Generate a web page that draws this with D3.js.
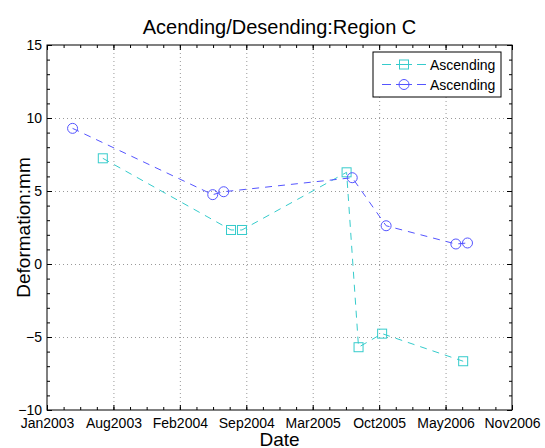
<!DOCTYPE html>
<html>
<head>
<meta charset="utf-8">
<script src="https://cdn.jsdelivr.net/npm/d3@7"></script>
<style>
  body { margin: 0; background: #fff; }
  svg { font-family: "Liberation Sans", Arial, sans-serif; }
  .grid line { stroke: #999; stroke-dasharray: 1,3; }
  .grid path { display: none; }
  .ax path { display: none; }
  .ax line { stroke: #000; }
  .ax text { font-size: 14px; fill: #000; }
</style>
</head>
<body>
<svg id="chart" width="545" height="448"></svg>
<script>
"use strict";

// x axis: ticks every 200 days starting 19 Jan 2003
var xTickLabels = ["Jan2003", "Aug2003", "Feb2004", "Sep2004", "Mar2005", "Oct2005", "May2006", "Nov2006"];
var yTicks = [-10, -5, 0, 5, 10, 15];

var ascDates = ["2003-07-06", "2004-07-26", "2004-08-28", "2005-07-09", "2005-08-14", "2005-10-24", "2006-06-25"];
var ascValues = [7.24, 2.33, 2.33, 6.28, -5.7, -4.77, -6.66];

var descDates = ["2003-04-06", "2004-06-01", "2004-07-04", "2005-07-26", "2005-11-05", "2006-06-03", "2006-07-08"];
var descValues = [9.29, 4.75, 4.95, 5.91, 2.62, 1.37, 1.44];

var seriesNames = ["Ascending", "Ascending"];

(function () {
    var svg = d3.select("#chart"),
        margin = {top: 45, right: 33, bottom: 38, left: 47},
        w = 545 - margin.left - margin.right,
        h = 448 - margin.top - margin.bottom,
        parse = d3.utcParse("%Y-%m-%d"),
        start = parse("2003-01-19"),
        end = d3.utcDay.offset(start, 1400),
        xTicks = xTickLabels.map(function (d, i) { return d3.utcDay.offset(start, 200 * i); }),
        xMinor = d3.range(0, 1401, 50).map(function (d) { return d3.utcDay.offset(start, d); }),
        yMinor = d3.range(-10, 16, 1),
        x = d3.scaleUtc().domain([start, end]).range([0, w]),
        y = d3.scaleLinear().domain([-10, 15]).range([h, 0]),
        g = svg.append("g").attr("transform", "translate(" + margin.left + "," + margin.top + ")");

    // dotted grid
    g.append("g").attr("class", "grid")
        .attr("transform", "translate(0," + h + ")")
        .call(d3.axisBottom(x).tickValues(xTicks.slice(1, -1)).tickSize(-h).tickFormat(""));
    g.append("g").attr("class", "grid")
        .call(d3.axisLeft(y).tickValues(yTicks.slice(1, -1)).tickSize(-w).tickFormat(""));

    // minor ticks on all four sides
    g.append("g").attr("class", "ax").attr("transform", "translate(0," + h + ")")
        .call(d3.axisBottom(x).tickValues(xMinor).tickSize(-3).tickFormat(""));
    g.append("g").attr("class", "ax")
        .call(d3.axisTop(x).tickValues(xMinor).tickSize(-3).tickFormat(""));
    g.append("g").attr("class", "ax")
        .call(d3.axisLeft(y).tickValues(yMinor).tickSize(-3).tickFormat(""));
    g.append("g").attr("class", "ax").attr("transform", "translate(" + w + ",0)")
        .call(d3.axisRight(y).tickValues(yMinor).tickSize(-3).tickFormat(""));

    // major ticks and labels
    g.append("g").attr("class", "ax").attr("transform", "translate(0," + h + ")")
        .call(d3.axisBottom(x).tickValues(xTicks).tickSize(-5).tickPadding(5)
            .tickFormat(function (d, i) { return xTickLabels[i]; }))
        .selectAll("text").attr("dy", "0.95em");
    g.append("g").attr("class", "ax")
        .call(d3.axisTop(x).tickValues(xTicks).tickSize(-5).tickFormat(""));
    g.append("g").attr("class", "ax")
        .call(d3.axisLeft(y).tickValues(yTicks).tickSize(-5).tickPadding(5).tickFormat(d3.format("d")))
        .selectAll("text").text(function (d) { return d < 0 ? "\u2212" + Math.abs(d) : d; });
    g.append("g").attr("class", "ax").attr("transform", "translate(" + w + ",0)")
        .call(d3.axisRight(y).tickValues(yTicks).tickSize(-5).tickFormat(""));

    // frame
    g.append("rect").attr("width", w).attr("height", h)
        .attr("fill", "none").attr("stroke", "#000").attr("stroke-width", 1);

    var line = d3.line()
        .x(function (d) { return x(d.date); })
        .y(function (d) { return y(d.value); });

    function series(dates, values) {
        return dates.map(function (d, i) { return {date: parse(d), value: values[i]}; });
    }

    var asc = series(ascDates, ascValues),
        desc = series(descDates, descValues),
        cyan = "#36cccc",
        blue = "#5555ff";

    g.append("path").attr("d", line(asc)).attr("fill", "none")
        .attr("stroke", cyan).attr("stroke-dasharray", "7,6");
    g.append("path").attr("d", line(desc)).attr("fill", "none")
        .attr("stroke", blue).attr("stroke-dasharray", "7,6");

    g.selectAll(".sq").data(asc).enter().append("rect")
        .attr("x", function (d) { return x(d.date) - 4.5; })
        .attr("y", function (d) { return y(d.value) - 4.5; })
        .attr("width", 9).attr("height", 9)
        .attr("fill", "none").attr("stroke", cyan);
    g.selectAll(".ci").data(desc).enter().append("circle")
        .attr("cx", function (d) { return x(d.date); })
        .attr("cy", function (d) { return y(d.value); })
        .attr("r", 5)
        .attr("fill", "none").attr("stroke", blue);

    // legend
    var lg = svg.append("g").attr("transform", "translate(373,52)");
    lg.append("rect").attr("width", 128).attr("height", 45)
        .attr("fill", "#fff").attr("stroke", "#000");
    [cyan, blue].forEach(function (c, i) {
        var yy = 12.5 + i * 20;
        lg.append("line").attr("x1", 9).attr("x2", 18).attr("y1", yy).attr("y2", yy).attr("stroke", c);
        lg.append("line").attr("x1", 23).attr("x2", 39).attr("y1", yy).attr("y2", yy).attr("stroke", c);
        lg.append("line").attr("x1", 44).attr("x2", 53).attr("y1", yy).attr("y2", yy).attr("stroke", c);
        if (i === 0) {
            lg.append("rect").attr("x", 26.5).attr("y", yy - 4.5).attr("width", 9).attr("height", 9)
                .attr("fill", "none").attr("stroke", c);
        } else {
            lg.append("circle").attr("cx", 31).attr("cy", yy).attr("r", 5)
                .attr("fill", "none").attr("stroke", c);
        }
        lg.append("text").attr("x", 57).attr("y", yy + 5).attr("font-size", 14)
            .text(seriesNames[i]);
    });

    // titles
    svg.append("text").attr("x", margin.left + w / 2).attr("y", 34)
        .attr("text-anchor", "middle").attr("font-size", 20)
        .text("Acending/Desending:Region C");
    svg.append("text").attr("transform", "translate(30," + (margin.top + h / 2) + ") rotate(-90)")
        .attr("text-anchor", "middle").attr("font-size", 19)
        .text("Deformation:mm");
    svg.append("text").attr("x", margin.left + w / 2).attr("y", 446)
        .attr("text-anchor", "middle").attr("font-size", 19)
        .text("Date");
}());
</script>
</body>
</html>
